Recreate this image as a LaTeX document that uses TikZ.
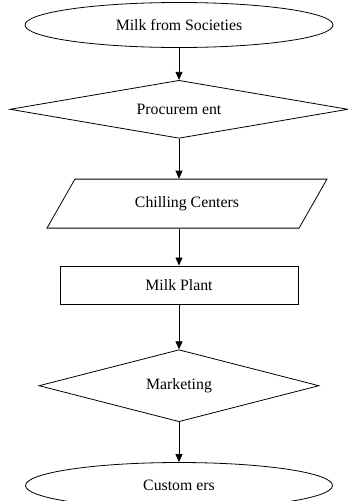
\documentclass[tikz,border=0pt]{standalone}
\usepackage{fontspec}
\setmainfont{Liberation Serif}
\usepackage{tikz}
\usetikzlibrary{shapes.geometric, arrows.meta, positioning}
\tikzset{
	oval/.style={
		draw,
		ellipse,
		line width=0.8pt,
		minimum width=308pt,
		minimum height=45pt,
		inner sep=0pt
	},
	decision/.style={
		draw,
		diamond,
		aspect=5,
		line width=0.8pt,
		inner sep=0pt
	},
	arrow/.style={
		-{Triangle[length=8pt, width=7pt]},
		line width=0.8pt
	}
}

\begin{document}
\begin{tikzpicture}[node distance=40pt, every node/.style={font=\fontsize{15.8}{18}\selectfont}]
		\useasboundingbox (0,0) rectangle (348pt,-501pt);
		
		% Source
		\node[oval] (milk) at (179pt,-25pt) {Milk from Societies};
		
		% Collecte
		\node[decision, minimum width=338pt, minimum height=58pt, below=32pt of milk] (proc) {Procurem ent};
		\node[draw, trapezium, trapezium left angle=37, trapezium right angle=143, trapezium stretches body,
		      line width=0.8pt, minimum width=280pt, minimum height=49pt, below=40pt of proc, xshift=8pt] (chill) {Chilling Centers};
		
		% Usine
		\node[draw, rectangle, line width=0.8pt, minimum width=238pt, minimum height=38pt, below=37pt of chill, xshift=-8pt] (plant) {Milk Plant};
		\node[decision, minimum width=280pt, minimum height=72pt, below=45pt of plant] (market) {Marketing};
		
		% Clients
		\node[oval, minimum width=307pt, minimum height=46pt, below=40pt of market] (cust) {Custom ers};
		
		% Liaisons
		\draw[arrow] (milk) -- (proc);
		\draw[arrow] (proc) -- (proc |- chill.north);
		\draw[arrow] (chill.south -| plant) -- (plant);
		\draw[arrow] (plant) -- (market);
		\draw[arrow] (market) -- (cust);
		
	\end{tikzpicture}
\end{document}
